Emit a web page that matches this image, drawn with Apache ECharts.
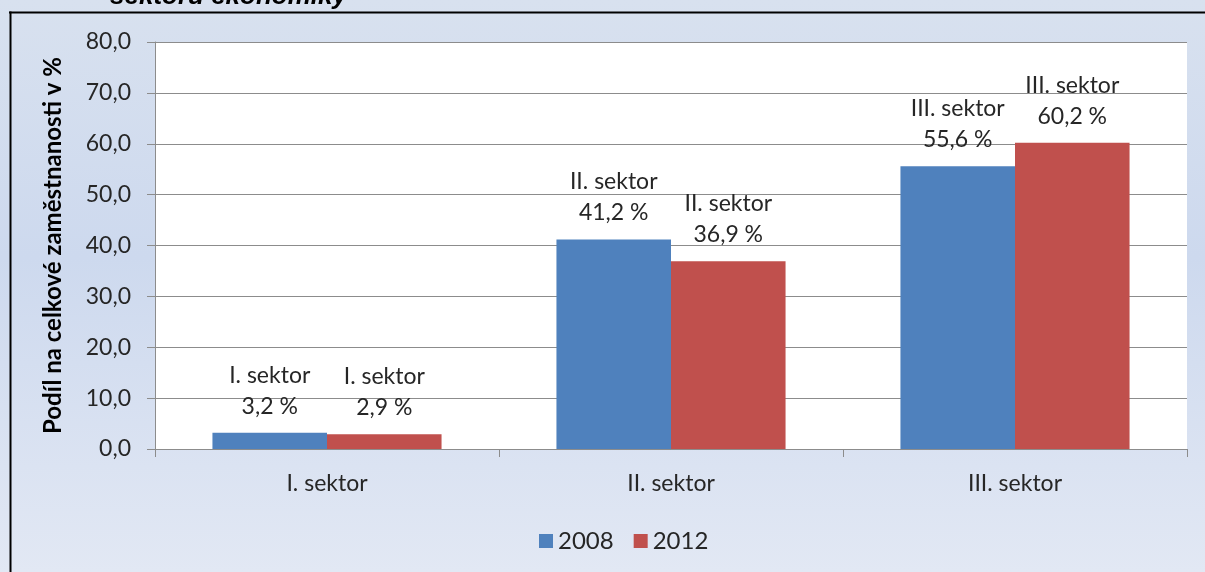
<!DOCTYPE html>
<html>
<head>
<meta charset="utf-8">
<script src="https://cdn.jsdelivr.net/npm/echarts@6/dist/echarts.min.js"></script>
<style>
  html, body { margin: 0; padding: 0; overflow: hidden; }
  #main { width: 1205px; height: 572px; }
</style>
</head>
<body>
<div id="main"></div>
<script>
// data
const categories = ["I. sektor", "II. sektor", "III. sektor"];
const years = ["2008", "2012"];
const values2008 = [3.2, 41.2, 55.6];
const values2012 = [2.9, 36.9, 60.2];
const yTicks = { min: 0, max: 80, interval: 10 };

const font = "Lato, 'Noto Sans', sans-serif";
const textColor = "#262626";
const axisGray = "#8c8c8c";

const comma = (v, d) => v.toFixed(d).replace(".", ",");

const chart = echarts.init(document.getElementById("main"));

const barLabel = {
  show: true,
  position: "top",
  distance: 11,
  fontFamily: font,
  fontSize: 23,
  lineHeight: 31,
  color: textColor,
  formatter: (p) => p.name + "\n" + comma(p.value, 1) + " %",
};

chart.setOption({
  backgroundColor: {
    type: "linear", x: 0, y: 0, x2: 0, y2: 1,
    colorStops: [
      { offset: 0, color: "#d8e1ef" },
      { offset: 0.45, color: "#cdd9ee" },
      { offset: 1, color: "#e2e8f4" },
    ],
  },
  animation: false,
  graphic: [
    {
      type: "text", left: 110, top: -16, silent: true,
      style: {
        text: "sektoru ekonomiky",
        font: "italic bold 26px 'Liberation Sans', Arial, sans-serif",
        fill: "#000",
      },
    },
    {
      type: "rect", silent: true,
      shape: { x: 9, y: 11.5, width: 1200, height: 2 },
      style: { fill: "#000" },
    },
    {
      type: "rect", silent: true,
      shape: { x: 9.5, y: 11.5, width: 2, height: 565 },
      style: { fill: "#000" },
    },
  ],
  grid: { left: 155, right: 18, top: 42, bottom: 123, show: true, backgroundColor: "#fff", borderWidth: 0 },
  legend: {
    data: years,
    top: 524,
    left: 534,
    icon: "rect",
    itemWidth: 14,
    itemHeight: 14,
    itemGap: 20,
    textStyle: { fontFamily: font, fontSize: 24, color: textColor },
  },
  xAxis: {
    type: "category",
    data: categories,
    axisLine: { lineStyle: { color: axisGray } },
    axisTick: { show: true, length: 8, lineStyle: { color: axisGray } },
    axisLabel: { fontFamily: font, fontSize: 23, color: textColor, margin: 23 },
  },
  yAxis: {
    type: "value",
    min: yTicks.min,
    max: yTicks.max,
    interval: yTicks.interval,
    name: "Podíl na celkové zaměstnanosti v %",
    nameLocation: "middle",
    nameGap: 90,
    nameTextStyle: { fontFamily: font, fontSize: 24, fontWeight: "bold", color: "#000" },
    axisLine: { show: true, lineStyle: { color: axisGray } },
    axisTick: { show: true, length: 8, lineStyle: { color: axisGray } },
    splitLine: { lineStyle: { color: axisGray } },
    axisLabel: {
      fontFamily: font, fontSize: 23, color: textColor, margin: 24,
      formatter: (v) => comma(v, 1),
    },
  },
  series: [
    {
      name: years[0], type: "bar", data: values2008,
      barGap: "0%", barCategoryGap: "33.4%",
      itemStyle: { color: "#4f81bd" }, label: barLabel,
    },
    {
      name: years[1], type: "bar", data: values2012,
      itemStyle: { color: "#c0504d" }, label: barLabel,
    },
  ],
});
</script>
</body>
</html>
